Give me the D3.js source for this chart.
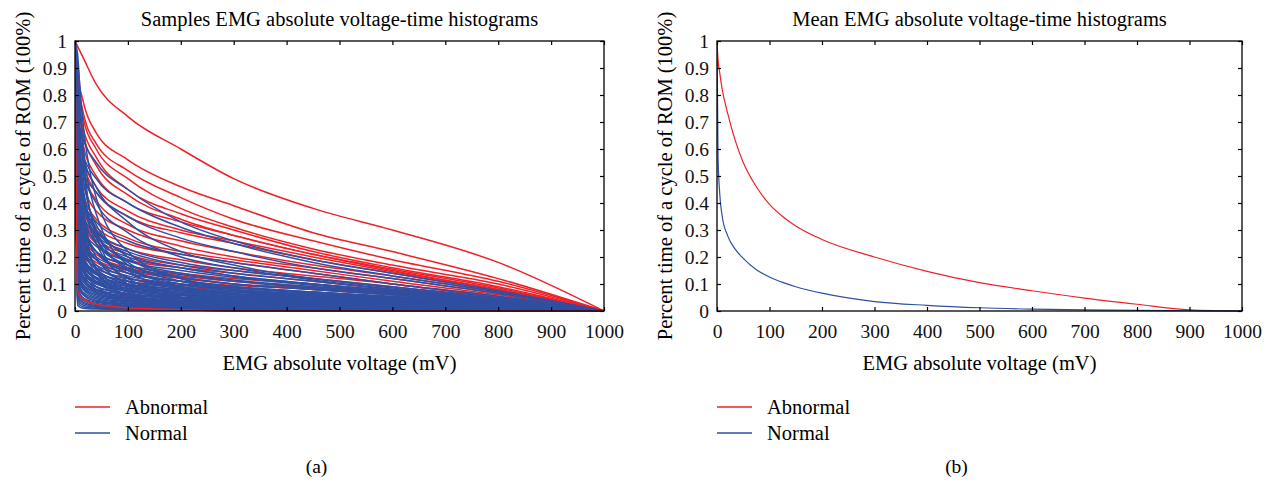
<!DOCTYPE html>
<html lang="en">
<head>
<meta charset="UTF-8">
<title>EMG absolute voltage-time histograms</title>
<script src="https://d3js.org/d3.v7.min.js"></script>
<style>
  body { margin: 0; background: #fff; }
  svg { display: block; font-family: "Liberation Serif", "Times New Roman", serif; }
</style>
</head>
<body>
<svg width="1272" height="487"></svg>
<script>
const voltGrid = [0, 5, 15, 40, 100, 200, 300, 450, 600, 800, 1000];

// (a) abnormal samples
const abnormalSamples = [
  [1, 0.98, 0.94, 0.84, 0.72, 0.60, 0.49, 0.38, 0.30, 0.18, 0],
  [1, 0.88, 0.78, 0.66, 0.56, 0.46, 0.39, 0.29, 0.22, 0.12, 0],
  [1, 0.86, 0.74, 0.62, 0.52, 0.42, 0.34, 0.26, 0.19, 0.11, 0],
  [1, 0.84, 0.72, 0.60, 0.49, 0.38, 0.31, 0.23, 0.17, 0.10, 0],
  [1, 0.80, 0.68, 0.57, 0.45, 0.36, 0.30, 0.22, 0.16, 0.09, 0],
  [1, 0.78, 0.66, 0.54, 0.43, 0.34, 0.28, 0.21, 0.15, 0.08, 0],
  [1, 0.75, 0.62, 0.50, 0.40, 0.33, 0.28, 0.21, 0.155, 0.085, 0],
  [1, 0.72, 0.58, 0.46, 0.37, 0.30, 0.26, 0.20, 0.145, 0.08, 0],
  [1, 0.70, 0.56, 0.44, 0.35, 0.29, 0.25, 0.19, 0.14, 0.075, 0],
  [1, 0.68, 0.53, 0.41, 0.32, 0.26, 0.22, 0.17, 0.13, 0.07, 0],
  [1, 0.62, 0.48, 0.37, 0.30, 0.24, 0.20, 0.16, 0.12, 0.065, 0],
  [1, 0.58, 0.44, 0.34, 0.27, 0.22, 0.19, 0.15, 0.11, 0.06, 0],
  [1, 0.55, 0.41, 0.31, 0.25, 0.21, 0.18, 0.14, 0.10, 0.055, 0],
  [1, 0.52, 0.38, 0.29, 0.23, 0.19, 0.16, 0.13, 0.10, 0.05, 0],
  [1, 0.48, 0.35, 0.27, 0.21, 0.17, 0.15, 0.12, 0.09, 0.045, 0],
  [1, 0.45, 0.33, 0.25, 0.19, 0.16, 0.14, 0.11, 0.08, 0.045, 0],
  [1, 0.42, 0.30, 0.22, 0.17, 0.14, 0.12, 0.10, 0.075, 0.04, 0],
  [1, 0.40, 0.28, 0.21, 0.16, 0.13, 0.11, 0.09, 0.07, 0.04, 0],
  [1, 0.36, 0.26, 0.19, 0.15, 0.12, 0.10, 0.085, 0.065, 0.035, 0],
  [1, 0.33, 0.24, 0.18, 0.14, 0.11, 0.095, 0.08, 0.06, 0.03, 0],
  [1, 0.30, 0.21, 0.16, 0.12, 0.10, 0.085, 0.07, 0.05, 0.025, 0],
  [1, 0.27, 0.19, 0.14, 0.11, 0.09, 0.075, 0.06, 0.045, 0.02, 0],
  [1, 0.20, 0.12, 0.08, 0.05, 0.03, 0.02, 0.01, 0.005, 0, 0]
];
// abnormal sample lying inside the dense normal band (drawn last)
const abnormalLowSamples = [
  [1, 0.07, 0.045, 0.025, 0.012, 0.005, 0, 0, 0, 0, 0]
];

// (a) normal samples
const normalSamples = [
  [1, 0.72, 0.64, 0.55, 0.45, 0.33, 0.26, 0.19, 0.14, 0.075, 0],
  [1, 0.66, 0.58, 0.49, 0.40, 0.31, 0.25, 0.18, 0.13, 0.07, 0],
  [1, 0.60, 0.52, 0.44, 0.35, 0.27, 0.22, 0.16, 0.12, 0.065, 0],
  [1, 0.50, 0.41, 0.33, 0.26, 0.21, 0.18, 0.14, 0.10, 0.055, 0],
  [1, 0.52, 0.40, 0.30, 0.23, 0.18, 0.15, 0.12, 0.09, 0.05, 0],
  [1, 0.46, 0.36, 0.28, 0.22, 0.17, 0.14, 0.11, 0.08, 0.045, 0],
  [1, 0.44, 0.34, 0.26, 0.20, 0.16, 0.13, 0.10, 0.075, 0.04, 0],
  [1, 0.40, 0.31, 0.24, 0.185, 0.15, 0.125, 0.095, 0.07, 0.04, 0],
  [1, 0.38, 0.29, 0.22, 0.17, 0.135, 0.11, 0.085, 0.065, 0.035, 0],
  [1, 0.36, 0.27, 0.20, 0.155, 0.125, 0.10, 0.08, 0.06, 0.032, 0],
  [1, 0.34, 0.25, 0.19, 0.14, 0.11, 0.09, 0.07, 0.055, 0.03, 0],
  [1, 0.32, 0.23, 0.17, 0.13, 0.10, 0.085, 0.065, 0.05, 0.028, 0],
  [1, 0.30, 0.22, 0.16, 0.12, 0.095, 0.08, 0.06, 0.045, 0.025, 0],
  [1, 0.29, 0.20, 0.145, 0.11, 0.085, 0.07, 0.055, 0.04, 0.022, 0],
  [1, 0.27, 0.19, 0.135, 0.10, 0.08, 0.065, 0.05, 0.038, 0.02, 0],
  [1, 0.26, 0.18, 0.125, 0.095, 0.075, 0.06, 0.047, 0.035, 0.02, 0],
  [1, 0.25, 0.17, 0.12, 0.09, 0.07, 0.055, 0.043, 0.032, 0.018, 0],
  [1, 0.24, 0.16, 0.11, 0.085, 0.065, 0.052, 0.04, 0.03, 0.016, 0],
  [1, 0.23, 0.15, 0.105, 0.08, 0.06, 0.048, 0.037, 0.028, 0.015, 0],
  [1, 0.22, 0.145, 0.10, 0.075, 0.057, 0.045, 0.035, 0.026, 0.014, 0],
  [1, 0.20, 0.13, 0.09, 0.065, 0.05, 0.04, 0.03, 0.022, 0.012, 0],
  [1, 0.19, 0.12, 0.08, 0.06, 0.045, 0.036, 0.027, 0.02, 0.011, 0],
  [1, 0.18, 0.11, 0.075, 0.055, 0.04, 0.032, 0.024, 0.018, 0.01, 0],
  [1, 0.17, 0.10, 0.07, 0.05, 0.037, 0.029, 0.022, 0.016, 0.009, 0],
  [1, 0.16, 0.095, 0.065, 0.046, 0.034, 0.026, 0.02, 0.014, 0.008, 0],
  [1, 0.15, 0.09, 0.06, 0.042, 0.03, 0.023, 0.017, 0.012, 0.007, 0],
  [1, 0.14, 0.085, 0.055, 0.038, 0.027, 0.02, 0.015, 0.011, 0.006, 0],
  [1, 0.13, 0.08, 0.05, 0.034, 0.024, 0.018, 0.013, 0.01, 0.005, 0],
  [1, 0.12, 0.07, 0.045, 0.03, 0.021, 0.016, 0.012, 0.009, 0.005, 0],
  [1, 0.11, 0.065, 0.04, 0.027, 0.019, 0.014, 0.01, 0.008, 0.004, 0],
  [1, 0.10, 0.06, 0.036, 0.024, 0.017, 0.012, 0.009, 0.007, 0.004, 0],
  [1, 0.09, 0.05, 0.032, 0.021, 0.015, 0.011, 0.008, 0.006, 0.003, 0],
  [1, 0.08, 0.045, 0.028, 0.018, 0.013, 0.01, 0.007, 0.005, 0.003, 0],
  [1, 0.07, 0.04, 0.024, 0.016, 0.011, 0.008, 0.006, 0.004, 0.002, 0],
  [1, 0.06, 0.034, 0.02, 0.013, 0.009, 0.007, 0.005, 0.003, 0.002, 0],
  [1, 0.05, 0.028, 0.017, 0.011, 0.008, 0.006, 0.004, 0.003, 0.001, 0],
  [1, 0.04, 0.022, 0.014, 0.009, 0.006, 0.004, 0.003, 0.002, 0.001, 0],
  [1, 0.03, 0.016, 0.01, 0.007, 0.005, 0.003, 0.002, 0.001, 0, 0],
  [1, 0.02, 0.01, 0.007, 0.005, 0.003, 0.002, 0.001, 0, 0, 0],
  [1, 0.70, 0.45, 0.25, 0.12, 0.06, 0.04, 0.03, 0.02, 0.01, 0],
  [1, 0.80, 0.55, 0.30, 0.15, 0.08, 0.05, 0.035, 0.025, 0.013, 0],
  [1, 0.65, 0.38, 0.20, 0.10, 0.05, 0.035, 0.025, 0.018, 0.01, 0],
  [1, 0.55, 0.30, 0.16, 0.08, 0.045, 0.03, 0.022, 0.016, 0.008, 0],
  [1, 0.45, 0.26, 0.14, 0.07, 0.04, 0.028, 0.02, 0.015, 0.008, 0],
  [1, 0.40, 0.22, 0.12, 0.06, 0.035, 0.025, 0.018, 0.013, 0.007, 0],
  [1, 0.35, 0.20, 0.11, 0.055, 0.03, 0.02, 0.015, 0.011, 0.006, 0],
  [1, 0.30, 0.17, 0.09, 0.045, 0.025, 0.017, 0.012, 0.009, 0.005, 0],
  [1, 0.26, 0.15, 0.08, 0.04, 0.022, 0.015, 0.011, 0.008, 0.004, 0],
  [1, 0.22, 0.13, 0.07, 0.035, 0.02, 0.013, 0.009, 0.007, 0.004, 0],
  [1, 0.75, 0.50, 0.32, 0.20, 0.12, 0.09, 0.065, 0.045, 0.025, 0],
  [1, 0.68, 0.46, 0.29, 0.18, 0.11, 0.08, 0.06, 0.042, 0.022, 0],
  [1, 0.60, 0.42, 0.27, 0.16, 0.10, 0.075, 0.055, 0.04, 0.02, 0],
  [1, 0.48, 0.33, 0.22, 0.14, 0.09, 0.07, 0.05, 0.036, 0.018, 0],
  [1, 0.42, 0.29, 0.19, 0.125, 0.085, 0.065, 0.048, 0.034, 0.017, 0],
  [1, 0.37, 0.26, 0.17, 0.11, 0.078, 0.06, 0.044, 0.032, 0.016, 0],
  [1, 0.33, 0.23, 0.155, 0.10, 0.07, 0.054, 0.04, 0.03, 0.015, 0],
  [1, 0.28, 0.20, 0.14, 0.092, 0.064, 0.05, 0.037, 0.027, 0.014, 0],
  [1, 0.24, 0.17, 0.12, 0.082, 0.058, 0.045, 0.033, 0.024, 0.012, 0],
  [1, 0.21, 0.15, 0.105, 0.072, 0.052, 0.04, 0.03, 0.022, 0.011, 0],
  [1, 0.18, 0.13, 0.09, 0.064, 0.046, 0.036, 0.027, 0.02, 0.01, 0],
  [1, 0.50, 0.36, 0.25, 0.17, 0.125, 0.10, 0.08, 0.06, 0.03, 0],
  [1, 0.44, 0.31, 0.22, 0.15, 0.11, 0.09, 0.07, 0.052, 0.027, 0],
  [1, 0.62, 0.44, 0.30, 0.21, 0.16, 0.13, 0.10, 0.075, 0.04, 0],
  [1, 0.57, 0.41, 0.28, 0.19, 0.14, 0.115, 0.09, 0.068, 0.036, 0],
  [1, 0.72, 0.58, 0.46, 0.33, 0.22, 0.17, 0.12, 0.085, 0.045, 0],
  [1, 0.66, 0.52, 0.40, 0.29, 0.20, 0.16, 0.115, 0.08, 0.042, 0],
  [1, 0.92, 0.70, 0.42, 0.22, 0.12, 0.08, 0.055, 0.04, 0.02, 0],
  [1, 0.85, 0.62, 0.36, 0.17, 0.09, 0.06, 0.04, 0.03, 0.015, 0],
  [1, 0.95, 0.60, 0.28, 0.11, 0.05, 0.03, 0.02, 0.015, 0.008, 0],
  [1, 0.78, 0.40, 0.15, 0.06, 0.03, 0.02, 0.014, 0.01, 0.005, 0]
];

// (b) mean curves
const meanVolt     = [0, 2, 5, 10, 20, 35, 50, 75, 100, 125, 150, 200, 300, 400, 500, 600, 700, 800, 900, 950, 1000];
const meanAbnormal = [1, 0.93, 0.885, 0.82, 0.735, 0.63, 0.55, 0.46, 0.395, 0.35, 0.315, 0.265, 0.2, 0.147, 0.105, 0.075, 0.048, 0.025, 0.004, 0.001, 0];
const meanNormal   = [1, 0.57, 0.44, 0.35, 0.28, 0.228, 0.195, 0.153, 0.126, 0.106, 0.09, 0.066, 0.035, 0.021, 0.012, 0.007, 0.004, 0.002, 0.001, 0.0005, 0];

const xTicks = [0, 100, 200, 300, 400, 500, 600, 700, 800, 900, 1000];
const yTicks = [0, 0.1, 0.2, 0.3, 0.4, 0.5, 0.6, 0.7, 0.8, 0.9, 1];
const yTickLabels = ["0", "0.1", "0.2", "0.3", "0.4", "0.5", "0.6", "0.7", "0.8", "0.9", "1"];

const RED = "#ee2128", BLUE = "#2f4fa2";
const svg = d3.select("svg");
const plotTop = 41, plotBottom = 311;

function toPoints(xs, ys) { return xs.map((v, i) => [v, ys[i]]); }

function panel(id, left, right, title, groups, caption) {
    const x = d3.scaleLinear().domain([0, 1000]).range([left, right]);
    const y = d3.scaleLinear().domain([0, 1]).range([plotBottom, plotTop]);
    const g = svg.append("g");

    g.append("clipPath").attr("id", "clip" + id)
        .append("rect").attr("x", left).attr("y", plotTop - 1)
        .attr("width", right - left).attr("height", plotBottom - plotTop + 2);

    const line = d3.line().x(d => x(d[0])).y(d => y(d[1])).curve(d3.curveMonotoneX);
    const plot = g.append("g").attr("clip-path", `url(#clip${id})`);
    groups.forEach(grp => {
        plot.append("g").selectAll("path").data(grp.curves).join("path")
            .attr("d", line)
            .attr("fill", "none")
            .attr("stroke", grp.color)
            .attr("stroke-width", grp.width);
    });

    // box axes, ticks inward on all four sides
    const ax = [
        [d3.axisBottom(x).tickValues(xTicks).tickPadding(13).tickFormat(d => d), `translate(0,${plotBottom})`],
        [d3.axisTop(x).tickValues(xTicks).tickFormat(""), `translate(0,${plotTop})`],
        [d3.axisLeft(y).tickValues(yTicks).tickPadding(8).tickFormat((d, i) => yTickLabels[i]), `translate(${left},0)`],
        [d3.axisRight(y).tickValues(yTicks).tickFormat(""), `translate(${right},0)`]
    ];
    ax.forEach(([a, t]) => {
        const s = g.append("g").attr("transform", t).call(a.tickSize(-4).tickSizeOuter(0));
        s.select(".domain").remove();
        s.selectAll("line").attr("stroke", "#000").attr("stroke-width", 1.2);
        s.selectAll("text").attr("font-family", "Liberation Serif").attr("font-size", 19.5).attr("fill", "#111");
    });
    g.append("rect").attr("x", left).attr("y", plotTop)
        .attr("width", right - left).attr("height", plotBottom - plotTop)
        .attr("fill", "none").attr("stroke", "#000").attr("stroke-width", 1.3);

    const cx = (left + right) / 2;
    g.append("text").attr("x", cx).attr("y", 26).attr("text-anchor", "middle")
        .attr("font-size", 20.5).text(title);
    g.append("text").attr("x", cx).attr("y", 370).attr("text-anchor", "middle")
        .attr("font-size", 20.5).text("EMG absolute voltage (mV)");
    g.append("text").attr("transform", `translate(${left - 45},176) rotate(-90)`)
        .attr("text-anchor", "middle").attr("font-size", 20.5)
        .text("Percent time of a cycle of ROM (100%)");

    // legend
    const legend = [["Abnormal", RED], ["Normal", BLUE]];
    legend.forEach(([name, c], i) => {
        const ly = 407 + i * 26;
        g.append("line").attr("x1", left).attr("x2", left + 35).attr("y1", ly).attr("y2", ly)
            .attr("stroke", c).attr("stroke-width", 1.3);
        g.append("text").attr("x", left + 50).attr("y", ly + 6.5)
            .attr("font-size", 20.5).text(name);
    });

    g.append("text").attr("x", cx - 23).attr("y", 473).attr("text-anchor", "middle")
        .attr("font-size", 19.5).text(caption);
}

panel("a", 75, 604, "Samples EMG absolute voltage-time histograms", [
    { color: RED, width: 1.5, curves: abnormalSamples.map(s => toPoints(voltGrid, s)) },
    { color: BLUE, width: 1.5, curves: normalSamples.map(s => toPoints(voltGrid, s)) },
    { color: RED, width: 1.5, curves: abnormalLowSamples.map(s => toPoints(voltGrid, s)) }
], "(a)");

panel("b", 717, 1242, "Mean EMG absolute voltage-time histograms", [
    { color: RED, width: 1.2, curves: [toPoints(meanVolt, meanAbnormal)] },
    { color: BLUE, width: 1.2, curves: [toPoints(meanVolt, meanNormal)] }
], "(b)");
</script>
</body>
</html>
